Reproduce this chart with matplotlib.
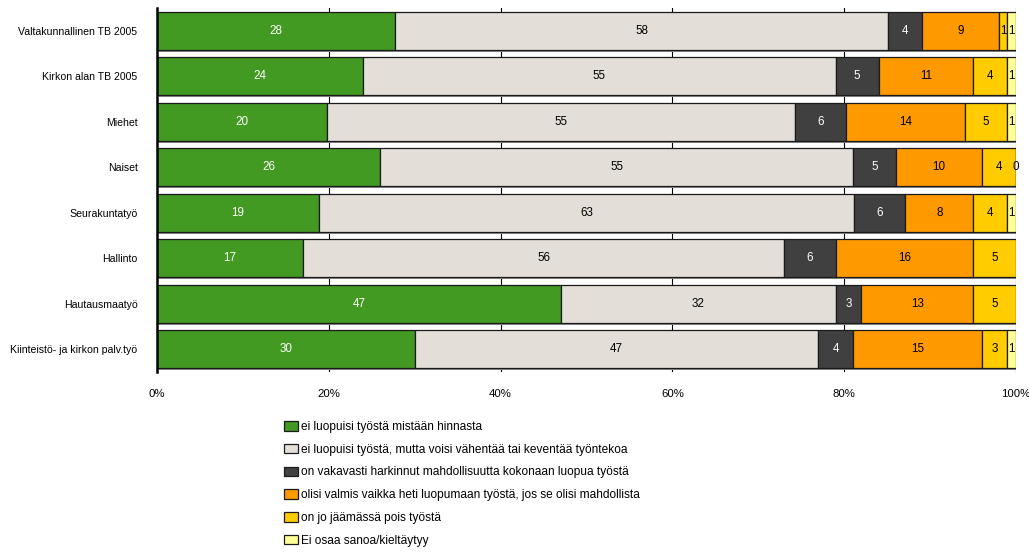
import matplotlib
matplotlib.use("Agg")
import matplotlib.pyplot as plt
from matplotlib import patheffects as pe
from matplotlib.patches import Patch

plt.rcParams["font.family"] = ["Liberation Sans", "DejaVu Sans"]

categories = [
    "Valtakunnallinen TB 2005",
    "Kirkon alan TB 2005",
    "Miehet",
    "Naiset",
    "Seurakuntatyö",
    "Hallinto",
    "Hautausmaatyö",
    "Kiinteistö- ja kirkon palv.työ",
]

series_names = [
    "ei luopuisi työstä mistään hinnasta",
    "ei luopuisi työstä, mutta voisi vähentää tai keventää työntekoa",
    "on vakavasti harkinnut mahdollisuutta kokonaan luopua työstä",
    "olisi valmis vaikka heti luopumaan työstä, jos se olisi mahdollista",
    "on jo jäämässä pois työstä",
    "Ei osaa sanoa/kieltäytyy",
]

no_price = [28, 24, 20, 26, 19, 17, 47, 30]
reduce_work = [58, 55, 55, 55, 63, 56, 32, 47]
considered = [4, 5, 6, 5, 6, 6, 3, 4]
ready_now = [9, 11, 14, 10, 8, 16, 13, 15]
retiring = [1, 4, 5, 4, 4, 5, 5, 3]
cannot_say = [1, 1, 1, 0, 1, None, None, 1]

tick_values = [0, 20, 40, 60, 80, 100]
tick_labels = ["0%", "20%", "40%", "60%", "80%", "100%"]

series = [no_price, reduce_work, considered, ready_now, retiring, cannot_say]
colors = ["#429A22", "#E3DFD8", "#404040", "#FF9900", "#FFCC00", "#FFFF99"]
text_colors = ["white", "black", "white", "black", "black", "black"]

fig = plt.figure(figsize=(10.29, 5.54), dpi=100)
ax = fig.add_axes([157 / 1029, 1 - 372 / 554, 859 / 1029, 364 / 554])

n = len(categories)
totals = [sum(v for v in (s[i] for s in series) if v is not None) for i in range(n)]
left = [0.0] * n
shadow = [pe.SimplePatchShadow(offset=(1.3, -1.3), shadow_rgbFace="#8a8a8a", alpha=1.0), pe.Normal()]

for k, (vals, col, tcol) in enumerate(zip(series, colors, text_colors)):
    for i in range(n):
        v = vals[i]
        if v is None:
            continue
        w = v / totals[i] * 100
        ax.barh(i, w, left=left[i], height=0.835, color=col,
                edgecolor="#1a1a1a", linewidth=0.9, path_effects=shadow, zorder=2)
        ax.text(left[i] + w / 2, i, str(v), ha="center", va="center",
                fontsize=8.4, color=tcol, zorder=4)
        left[i] += w

ax.set_xlim(0, 100)
ax.set_ylim(n - 0.5, -0.5)
ax.set_yticks(range(n))
ax.set_yticklabels(categories, fontsize=7.6)
ax.set_xticks(tick_values)
ax.set_xticklabels(tick_labels, fontsize=8.2)
ax.tick_params(axis="both", length=0)
ax.tick_params(axis="x", pad=12)
ax.tick_params(axis="y", pad=14)
ax.set_axisbelow(True)
ax.xaxis.grid(True, color="black", linewidth=0.8, zorder=0)
for side in ["top", "right", "bottom"]:
    ax.spines[side].set_visible(False)
ax.spines["left"].set_linewidth(1.8)
ax.spines["left"].set_zorder(5)

handles = [Patch(facecolor=c, edgecolor="#1a1a1a", linewidth=0.9) for c in colors]
fig.legend(handles, series_names, loc="upper left",
           bbox_to_anchor=(284 / 1029, 1 - 421 / 554), frameon=False,
           fontsize=8.6, handlelength=1.2, handleheight=0.85,
           handletextpad=0.2, labelspacing=0.9, borderpad=0, borderaxespad=0)

fig.savefig("out.png", dpi=100)
